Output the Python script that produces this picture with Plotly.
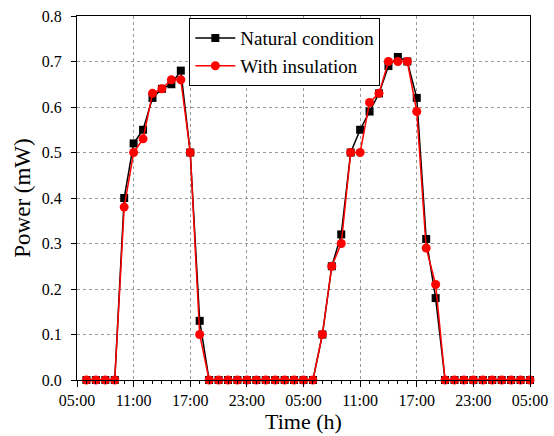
import plotly.graph_objects as go

# hours after 05:00 on day 1 (06:00 day 1 ... 05:00 day 3)
hours = list(range(1, 49))

natural = [0, 0, 0, 0, 0.40, 0.52, 0.55, 0.62, 0.64, 0.65, 0.68, 0.50, 0.13,
           0, 0, 0, 0, 0, 0, 0, 0, 0, 0, 0, 0,
           0.10, 0.25, 0.32, 0.50, 0.55, 0.59, 0.63, 0.69, 0.71, 0.70, 0.62, 0.31, 0.18,
           0, 0, 0, 0, 0, 0, 0, 0, 0, 0]
insulated = [0, 0, 0, 0, 0.38, 0.50, 0.53, 0.63, 0.64, 0.66, 0.66, 0.50, 0.10,
             0, 0, 0, 0, 0, 0, 0, 0, 0, 0, 0, 0,
             0.10, 0.25, 0.30, 0.50, 0.50, 0.61, 0.63, 0.70, 0.70, 0.70, 0.59, 0.29, 0.21,
             0, 0, 0, 0, 0, 0, 0, 0, 0, 0]

tick_vals = [0, 6, 12, 18, 24, 30, 36, 42, 48]
tick_text = ["05:00", "11:00", "17:00", "23:00", "05:00", "11:00", "17:00", "23:00", "05:00"]

FONT = "Liberation Serif, Times New Roman, serif"

fig = go.Figure()
fig.add_scatter(
    x=hours, y=natural, name="Natural condition", mode="lines+markers",
    line=dict(color="black", width=1.5),
    marker=dict(symbol="square", size=8, color="black"),
    cliponaxis=False,
)
fig.add_scatter(
    x=hours, y=insulated, name="With insulation", mode="lines+markers",
    line=dict(color="red", width=1.5),
    marker=dict(symbol="circle", size=9, color="red"),
    cliponaxis=False,
)

fig.update_layout(
    width=554, height=436,
    margin=dict(l=77, r=24, t=16, b=56),
    paper_bgcolor="white", plot_bgcolor="white",
    font=dict(family=FONT, size=16, color="black"),
    showlegend=True,
    legend=dict(
        x=0.248, y=0.994, xanchor="left", yanchor="top",
        bgcolor="white", bordercolor="black", borderwidth=1,
        font=dict(family=FONT, size=19),
        tracegroupgap=0, itemwidth=40,
    ),
    xaxis=dict(
        range=[0, 48], tickvals=tick_vals, ticktext=tick_text,
        ticks="outside", ticklen=6, tickwidth=1, tickcolor="black",
        ticklabelstandoff=0, ticklabeloverflow="allow", automargin=False,
        minor=dict(dtick=1, tick0=0, ticks="outside", ticklen=3, tickcolor="black",
                   showgrid=False),
        showline=True, linecolor="black", linewidth=1.3, mirror=True,
        showgrid=True, gridcolor="#9a9a9a", griddash="dot", gridwidth=1,
        zeroline=False,
        title=dict(text="Time (h)", font=dict(family=FONT, size=22), standoff=2),
    ),
    yaxis=dict(
        range=[0, 0.8], dtick=0.1, tickformat=".1f",
        ticks="outside", ticklen=5, tickwidth=1, tickcolor="black",
        ticklabelstandoff=6, ticklabeloverflow="allow", automargin=False,
        showline=True, linecolor="black", linewidth=1.3, mirror=True,
        showgrid=True, gridcolor="#9a9a9a", griddash="dot", gridwidth=1,
        zeroline=False,
        title=dict(text="Power (mW)", font=dict(family=FONT, size=23), standoff=4),
    ),
)

# drop the default 8px page margin so the figure sits at the window origin
fig.write_html("out.html", config={"displayModeBar": False},
               post_script="document.body.style.margin='0';")
